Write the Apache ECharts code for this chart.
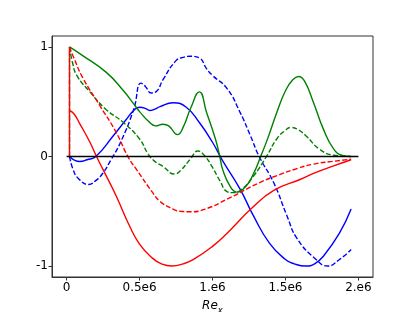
<!DOCTYPE html>
<html>
<head>
<meta charset="utf-8">
<script src="https://cdn.jsdelivr.net/npm/echarts@6/dist/echarts.min.js"></script>
<style>html,body{margin:0;padding:0;background:#fff;}#c{width:415px;height:312px;}</style>
</head>
<body>
<div id="c"></div>
<script>
// x values in units of 1e6
const xTicks = [0, 0.5, 1, 1.5, 2];
const xTickLabels = ['0', '0.5e6', '1.e6', '1.5e6', '2.e6'];
const yTicks = [-1, 0, 1];
const yTickLabels = ['-1', '0', '1'];

const zeroLine = [[0, 0], [2, 0]];

// initial jumps at the leading edge
const redLead = [[0.02,0],[0.02,1]];
const greenLead = [[0.02,0],[0.02,1]];

const redSolid = [[0.02,0.42],[0.05,0.39],[0.09,0.30],[0.16,0.13],[0.205,0.0],[0.25,-0.12],[0.34,-0.36],[0.43,-0.63],[0.5,-0.8],[0.59,-0.93],[0.65,-0.98],[0.72,-1.0],[0.8,-0.98],[0.87,-0.94],[1.0,-0.82],[1.1,-0.70],[1.27,-0.47],[1.42,-0.31],[1.6,-0.21],[1.71,-0.145],[1.83,-0.086],[1.95,-0.03]];

const redDashed = [[0.02,1],[0.05,0.9],[0.11,0.72],[0.23,0.46],[0.34,0.22],[0.42,0.0],[0.48,-0.12],[0.59,-0.33],[0.64,-0.41],[0.73,-0.48],[0.78,-0.5],[0.85,-0.505],[0.95,-0.48],[1.1,-0.39],[1.32,-0.24],[1.46,-0.165],[1.58,-0.11],[1.69,-0.07],[1.82,-0.045],[1.95,-0.025]];

const greenSolid = [[0.02,1],[0.1,0.93],[0.27,0.77],[0.39,0.6],[0.46,0.48],[0.5,0.41],[0.57,0.31],[0.61,0.28],[0.66,0.295],[0.7,0.28],[0.76,0.2],[0.8,0.27],[0.85,0.44],[0.91,0.59],[0.96,0.4],[1.02,0.16],[1.05,0.0],[1.07,-0.12],[1.12,-0.27],[1.165,-0.325],[1.23,-0.27],[1.28,-0.16],[1.33,0.0],[1.38,0.17],[1.44,0.4],[1.5,0.6],[1.55,0.7],[1.59,0.73],[1.63,0.69],[1.69,0.5],[1.76,0.25],[1.83,0.07],[1.89,0.01],[1.95,0.0]];

const greenDashed = [[0.02,1],[0.04,0.86],[0.07,0.74],[0.16,0.59],[0.27,0.43],[0.39,0.31],[0.5,0.16],[0.56,0.02],[0.6,-0.04],[0.66,-0.09],[0.74,-0.16],[0.78,-0.13],[0.85,-0.02],[0.9,0.05],[0.95,0.0],[1.0,-0.1],[1.05,-0.22],[1.1,-0.32],[1.14,-0.33],[1.19,-0.31],[1.28,-0.18],[1.37,0.0],[1.44,0.16],[1.5,0.24],[1.54,0.265],[1.58,0.25],[1.64,0.19],[1.73,0.07],[1.83,0.012],[1.95,0.0]];

const blueSolid = [[0.02,0],[0.05,-0.03],[0.09,-0.045],[0.14,-0.03],[0.2,0.0],[0.32,0.19],[0.41,0.34],[0.46,0.42],[0.5,0.45],[0.54,0.44],[0.57,0.42],[0.6,0.43],[0.64,0.455],[0.73,0.49],[0.82,0.45],[0.91,0.31],[1.0,0.13],[1.07,-0.04],[1.19,-0.3],[1.28,-0.54],[1.39,-0.79],[1.5,-0.94],[1.56,-0.98],[1.64,-1.0],[1.7,-0.98],[1.76,-0.91],[1.87,-0.7],[1.95,-0.48]];

const blueDashed = [[0.02,0],[0.045,-0.12],[0.08,-0.2],[0.15,-0.255],[0.2,-0.22],[0.25,-0.15],[0.3,-0.04],[0.37,0.13],[0.46,0.43],[0.51,0.67],[0.54,0.64],[0.58,0.58],[0.62,0.6],[0.66,0.7],[0.75,0.875],[0.8,0.905],[0.85,0.915],[0.91,0.9],[0.96,0.8],[1.0,0.74],[1.1,0.62],[1.19,0.4],[1.26,0.19],[1.32,0.0],[1.42,-0.24],[1.51,-0.54],[1.58,-0.75],[1.71,-0.94],[1.79,-1.0],[1.87,-0.94],[1.95,-0.85]];

const chart = echarts.init(document.getElementById('c'), null, {renderer: 'canvas'});
const FONT = 'DejaVu Sans';
function mkLine(data, color, dashed, z, smooth) {
  return {
    type: 'line', data: data, showSymbol: false, smooth: smooth === undefined ? 0.5 : smooth, z: z,
    lineStyle: {color: color, width: 1.4, type: dashed ? [5, 2.2] : 'solid'},
    emphasis: {disabled: true}, animation: false
  };
}
chart.setOption({
  animation: false,
  backgroundColor: '#fff',
  grid: {left: 52, right: 42, top: 36, bottom: 35, show: true, borderColor: '#333', borderWidth: 1,
    backgroundColor: 'transparent', containLabel: false, outerBoundsMode: 'none'},
  xAxis: {
    type: 'value', min: -0.1, max: 2.1,
    axisLine: {show: true, onZero: false, lineStyle: {color: '#333', width: 1}},
    splitLine: {show: false},
    axisTick: {show: true, length: 3.5, lineStyle: {color: '#333'}, customValues: xTicks},
    axisLabel: {customValues: xTicks, fontFamily: FONT, fontSize: 12, color: '#000', margin: 5,
      formatter: function (v) { const i = xTicks.indexOf(v); return i >= 0 ? xTickLabels[i] : ''; }},
    name: '{a|Re}{b|x}', nameLocation: 'middle', nameGap: 21,
    nameTextStyle: {verticalAlign: 'top', rich: {
      a: {fontFamily: FONT, fontStyle: 'italic', fontSize: 12, color: '#000', verticalAlign: 'bottom', lineHeight: 14},
      b: {fontFamily: FONT, fontStyle: 'italic', fontSize: 8.5, color: '#000', verticalAlign: 'bottom', lineHeight: 14, padding: [0, 0, -3, 0]}
    }}
  },
  yAxis: {
    type: 'value', min: -1.1, max: 1.1,
    axisLine: {show: true, onZero: false, lineStyle: {color: '#333', width: 1}},
    splitLine: {show: false},
    axisTick: {show: true, length: 3.5, lineStyle: {color: '#333'}, customValues: yTicks},
    axisLabel: {customValues: yTicks, fontFamily: FONT, fontSize: 12, color: '#000', margin: 4,
      formatter: function (v) { const i = yTicks.indexOf(v); return i >= 0 ? yTickLabels[i] : ''; }}
  },
  series: [
    mkLine(blueSolid, '#0000ff', false, 2),
    mkLine(blueDashed, '#0000ff', true, 2),
    mkLine(greenSolid, '#008000', false, 3),
    mkLine(greenLead, '#008000', true, 3, false),
    mkLine(greenDashed, '#008000', true, 3),
    mkLine(redDashed, '#ff0000', true, 4),
    mkLine(redSolid, '#ff0000', false, 5),
    mkLine(redLead, '#ff0000', false, 5, false),
    {type: 'line', data: zeroLine, showSymbol: false, z: 6, lineStyle: {color: '#000', width: 1.4}, animation: false}
  ]
});
</script>
</body>
</html>
